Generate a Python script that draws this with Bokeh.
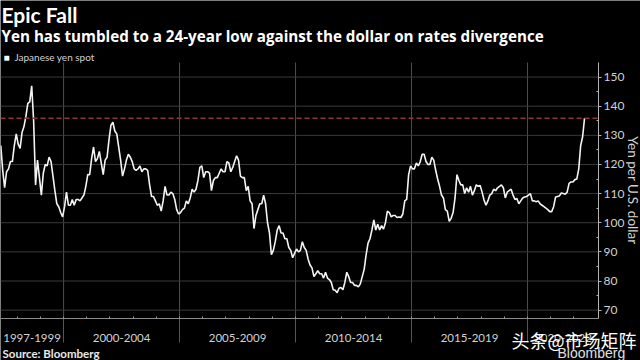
import math
from bokeh.plotting import figure
from bokeh.models import Range1d, FixedTicker, Label, LabelSet, ColumnDataSource
from bokeh.embed import file_html
from bokeh.resources import INLINE
from bokeh.core.properties import value

# ---- data: USD/JPY spot, monthly readings from April 1997 to June 2022 ----
first_year, first_month = 1997, 4
yen_1997 = [126.5, 118.0, 112.0, 117.5, 118.5, 121.0, 121.0, 126.5, 130.5]
yen_1998 = [127.0, 125.5, 131.0, 133.0, 136.5, 141.0, 141.5, 147.0, 135.0, 113.0, 121.5, 115.5]
yen_1999 = [109.5, 117.0, 120.0, 119.5, 122.5, 121.0, 116.0, 111.0, 106.5, 105.5, 103.5, 102.0]
yen_2000 = [105.5, 110.5, 106.0, 106.0, 108.0, 106.0, 108.0, 108.0, 107.5, 108.5, 109.5, 112.5]
yen_2001 = [116.5, 116.5, 122.0, 126.0, 121.0, 122.0, 124.5, 120.5, 116.5, 121.5, 122.5, 128.5]
yen_2002 = [133.5, 134.5, 131.5, 130.5, 126.0, 121.5, 116.0, 118.5, 121.5, 123.5, 122.5, 121.0]
yen_2003 = [118.5, 118.0, 118.5, 119.5, 117.5, 118.5, 118.5, 118.0, 113.0, 109.0, 109.0, 107.5]
yen_2004 = [106.0, 106.5, 104.0, 107.5, 112.5, 109.5, 109.5, 110.5, 110.0, 108.0, 104.5, 103.0]
yen_2005 = [103.5, 104.5, 105.0, 107.5, 106.5, 108.5, 111.5, 110.5, 111.5, 114.5, 119.0, 119.5]
yen_2006 = [115.5, 117.5, 117.5, 117.0, 111.0, 114.5, 115.5, 115.5, 117.0, 118.5, 117.5, 117.5]
yen_2007 = [121.0, 120.5, 117.5, 119.0, 121.0, 123.0, 121.5, 116.0, 115.5, 115.5, 111.0, 112.5]
yen_2008 = [107.5, 106.5, 98.0, 102.5, 104.5, 106.5, 106.5, 109.5, 106.5, 100.0, 96.5, 89.0]
yen_2009 = [90.5, 93.5, 97.5, 99.0, 96.5, 96.5, 94.5, 94.5, 91.5, 90.5, 88.0, 89.5]
yen_2010 = [91.0, 90.0, 90.5, 93.5, 91.5, 90.5, 87.5, 85.5, 84.5, 81.5, 82.5, 83.5]
yen_2011 = [82.5, 82.5, 81.0, 83.0, 81.0, 80.5, 79.5, 77.0, 76.8, 76.0, 77.5, 77.8]
yen_2012 = [77.0, 79.5, 83.0, 81.5, 79.5, 79.5, 78.5, 78.5, 78.0, 79.0, 81.5, 84.0]
yen_2013 = [89.0, 93.0, 94.5, 97.5, 101.0, 97.5, 99.5, 97.5, 99.0, 97.8, 100.0, 104.0]
yen_2014 = [103.5, 102.0, 102.5, 102.5, 101.8, 102.0, 101.8, 103.0, 107.5, 108.0, 116.5, 119.5]
yen_2015 = [118.5, 118.5, 120.5, 119.5, 121.0, 123.5, 123.5, 121.0, 120.0, 120.0, 122.5, 121.5]
yen_2016 = [118.0, 115.0, 112.5, 109.5, 108.5, 104.5, 104.0, 100.5, 101.5, 103.5, 108.5, 116.5]
yen_2017 = [114.5, 113.0, 113.0, 110.0, 112.0, 110.5, 112.5, 109.5, 111.0, 113.0, 112.5, 112.8]
yen_2018 = [110.5, 107.8, 106.0, 107.5, 109.5, 110.0, 111.5, 111.0, 112.0, 112.5, 113.0, 112.0]
yen_2019 = [108.5, 110.5, 111.0, 111.5, 109.5, 108.0, 108.3, 106.5, 107.5, 108.5, 108.8, 109.0]
yen_2020 = [109.5, 110.0, 107.5, 107.5, 107.2, 107.5, 106.5, 106.0, 105.5, 105.0, 104.5, 103.8]
yen_2021 = [103.8, 105.5, 108.8, 109.0, 109.2, 110.2, 110.0, 109.8, 110.5, 113.5, 114.0, 114.0]
yen_2022 = [114.8, 115.0, 118.5, 126.5, 129.5, 135.9]

category_labels = ["1997-1999", "2000-2004", "2005-2009", "2010-2014", "2015-2019", "2020-2022"]
category_edges = [2000, 2005, 2010, 2015, 2020]
year_ticks = list(range(1998, 2023))
y_ticks = [70, 80, 90, 100, 110, 120, 130, 140, 150]
y_minor_ticks = [75, 85, 95, 105, 115, 125, 135, 145]

# ---- derived ----
yearly = [yen_1997, yen_1998, yen_1999, yen_2000, yen_2001, yen_2002, yen_2003,
          yen_2004, yen_2005, yen_2006, yen_2007, yen_2008, yen_2009, yen_2010,
          yen_2011, yen_2012, yen_2013, yen_2014, yen_2015, yen_2016, yen_2017,
          yen_2018, yen_2019, yen_2020, yen_2021, yen_2022]
values = [v for block in yearly for v in block]
dates = [first_year + (first_month - 1 + i + 0.5) / 12 for i in range(len(values))]

# ---- geometry (canvas 640 x 360, chart area 0..598 x 62..317.5 px) ----
W, H = 640, 360
plot_x_min, plot_x_max = 1997.28, 2023.06
plot_y_min, plot_y_max = 67.3, 155.0
area_left, area_right, area_top, area_bottom = 0.0, 598.0, 62.0, 317.5
ppx = (area_right - area_left) / (plot_x_max - plot_x_min)
ppy = (area_bottom - area_top) / (plot_y_max - plot_y_min)
x_range = Range1d(plot_x_min - area_left / ppx, plot_x_max + (W - area_right) / ppx)
y_range = Range1d(plot_y_min - (H - area_bottom) / ppy, plot_y_max + area_top / ppy)

bounds = [plot_x_min] + category_edges + [plot_x_max]
centers = [(a + b) / 2 for a, b in zip(bounds[:-1], bounds[1:])]

BG = "#000000"
TXT = "#d2d2d2"
FONT = "Lato"

p = figure(width=W, height=H, output_backend="svg", toolbar_location=None,
           x_range=x_range, y_range=y_range, y_axis_location="right", title=None,
           min_border=0, min_border_left=0, min_border_right=0,
           min_border_top=0, min_border_bottom=0,
           background_fill_color=BG, border_fill_color=BG, outline_line_color=None)
p.grid.visible = False

# gridlines limited to the chart area
p.segment(x0=category_edges, y0=[plot_y_min] * len(category_edges),
          x1=category_edges, y1=[plot_y_max] * len(category_edges),
          line_color="#4e4e4e", line_width=1)
p.segment(x0=[plot_x_min] * len(y_ticks), y0=y_ticks,
          x1=[plot_x_max] * len(y_ticks), y1=y_ticks,
          line_color="#3a3a3a", line_width=1)

# x axis at the bottom of the chart area
xa = p.xaxis[0]
xa.fixed_location = plot_y_min
xa.bounds = (plot_x_min, plot_x_max)
xa.ticker = FixedTicker(ticks=category_edges, minor_ticks=year_ticks)
xa.major_label_overrides = {e: "" for e in category_edges}
xa.axis_line_color = "#8a8a8a"
xa.major_tick_out = 24
xa.major_tick_in = 0
xa.major_tick_line_color = "#555555"
xa.minor_tick_in = 2
xa.minor_tick_out = 0
xa.minor_tick_line_color = "#9a9a9a"

# y axis on the right edge of the chart area
ya = p.yaxis[0]
ya.fixed_location = plot_x_max
ya.bounds = (plot_y_min, plot_y_max)
ya.ticker = FixedTicker(ticks=y_ticks, minor_ticks=y_minor_ticks)
ya.axis_line_color = "#b4b4b4"
ya.major_tick_out = 3
ya.major_tick_in = 0
ya.major_tick_line_color = "#b4b4b4"
ya.minor_tick_in = 2
ya.minor_tick_out = 0
ya.minor_tick_line_color = "#b4b4b4"
ya.major_label_standoff = 2
ya.major_label_text_font = FONT
ya.major_label_text_font_size = "12px"
ya.major_label_text_color = TXT

# series
p.line(dates, values, line_color="#f4f4f4", line_width=1.6)

# current level marker
p.segment(x0=[plot_x_min], y0=[values[-1]], x1=[plot_x_max], y1=[values[-1]],
          line_color="#943535", line_dash="5 3", line_width=1.5)

# category labels under the axis
cat_src = ColumnDataSource(dict(x=centers, text=category_labels))
p.add_layout(LabelSet(source=cat_src, x="x", y=H - 337, y_units="screen", text="text",
                      text_font=value(FONT), text_font_size="11.5px", text_color=TXT,
                      text_align="center", text_baseline="middle"))

def canvas_label(x, y, text, size, color, style="normal", font=FONT, angle=0.0, align="left"):
    p.add_layout(Label(x=x, y=y, x_units="canvas", y_units="canvas", text=text,
                       text_font=font, text_font_size=size, text_font_style=style,
                       text_color=color, text_baseline="middle", text_align=align,
                       angle=angle))

canvas_label(1, 14, "Epic Fall", "21px", "#ffffff", "bold")
canvas_label(1, 35, "Yen has tumbled to a 24-year low against the dollar on rates divergence",
             "15.2px", "#ffffff", "bold", font="Open Sans")
canvas_label(3, 56, "\u25a0", "10px", "#ffffff")
canvas_label(14, 56, "Japanese yen spot", "10px", TXT)
canvas_label(632, (area_top + area_bottom) / 2, "Yen per U.S. dollar", "13.5px", TXT,
             angle=-math.pi / 2, align="center")
canvas_label(2, 353, "Source: Bloomberg", "11.5px", "#e8e8e8", "bold")
canvas_label(511, 339, "头条@市场矩阵", "18px", "#ffffff", font="Noto Sans CJK SC")
canvas_label(557, 352, "Bloomberg", "14px", "#e0e0e0", font="Liberation Sans")

open("out.html", "w").write(file_html(p, INLINE))
